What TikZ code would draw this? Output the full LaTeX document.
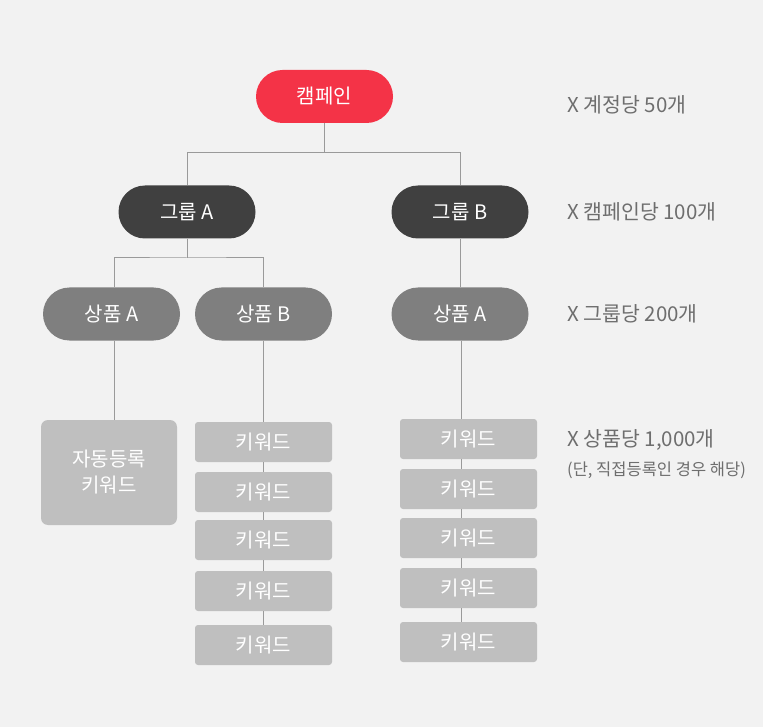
\documentclass[tikz,border=0pt]{standalone}
\usepackage{fontspec}
\setmainfont{Noto Sans CJK KR}
\definecolor{bgc}{HTML}{F2F2F2}
\definecolor{campred}{HTML}{F43347}
\definecolor{groupc}{HTML}{404040}
\definecolor{prodc}{HTML}{7F7F7F}
\definecolor{keyc}{HTML}{BFBFBF}
\definecolor{linec}{HTML}{9A9A9A}
\definecolor{notec}{HTML}{6E6E6E}
\begin{document}
\begin{tikzpicture}[x=1pt,y=-1pt,
  pill/.style={rounded corners=26.5pt, minimum width=137pt, minimum height=53pt,
    inner sep=0pt, text=white, font=\fontsize{20}{23}\selectfont},
  keybox/.style={rounded corners=3pt, fill=keyc, minimum width=137pt, minimum height=40pt,
    inner sep=0pt, text=white, font=\fontsize{20}{23}\selectfont},
  autobox/.style={rounded corners=7pt, fill=keyc, minimum width=136pt, minimum height=105pt,
    inner sep=0pt, text=white, align=center, font=\fontsize{20}{26}\selectfont},
  conn/.style={draw=linec, line width=1pt},
  note/.style={anchor=base west, inner sep=0pt, text=notec, font=\fontsize{20.5}{23}\selectfont},
  smallnote/.style={anchor=base west, inner sep=0pt, text=notec, font=\fontsize{16.5}{19}\selectfont}]
\fill[bgc] (0,0) rectangle (763,727);
\useasboundingbox (0,0) rectangle (763,727);

% nodes
\node[pill, fill=campred] (c) at (324.5,96.5) {캠페인};
\node[pill, fill=groupc] (ga) at (187,212) {그룹 A};
\node[pill, fill=groupc] (gb) at (460,212) {그룹 B};
\node[pill, fill=prodc] (pa) at (111.5,314) {상품 A};
\node[pill, fill=prodc] (pb) at (263.5,314) {상품 B};
\node[pill, fill=prodc] (pc) at (460,314) {상품 A};

\node[autobox] (auto) at (109,472.5) {자동등록\\키워드};

\node[keybox] (b1) at (263.5,442) {키워드};
\node[keybox] (b2) at (263.5,492) {키워드};
\node[keybox] (b3) at (263.5,540) {키워드};
\node[keybox] (b4) at (263.5,591) {키워드};
\node[keybox] (b5) at (263.5,645) {키워드};

\node[keybox] (k1) at (468.5,439) {키워드};
\node[keybox] (k2) at (468.5,489) {키워드};
\node[keybox] (k3) at (468.5,538) {키워드};
\node[keybox] (k4) at (468.5,588) {키워드};
\node[keybox] (k5) at (468.5,642) {키워드};

% notes
\node[note] (n1) at (567,113) {X 계정당 50개};
\node[note] (n2) at (567,220) {X 캠페인당 100개};
\node[note] (n3) at (567,322) {X 그룹당 200개};
\node[note] (n4) at (567,446) {X 상품당 1,000개};
\node[smallnote] (n5) at (567,475) {(단, 직접등록인 경우 해당)};

% connectors
\coordinate (j1) at (324.5,152.5);
\draw[conn] (c.south) -- (j1);
\draw[conn] (ga.north) |- (j1) -| (gb.north);
\draw[conn] (gb.south) -- (pc.north);

\coordinate (j2) at (187,258);
\coordinate (pat) at ([xshift=2.5pt]pa.north);
\coordinate (pab) at ([xshift=2.5pt]pa.south);
\draw[conn] (ga.south) -- (j2);
\draw[conn] (pat) |- (j2) -| (pb.north);
\draw[conn] (pab) -- (pab |- auto.north);

\draw[conn] (pb.south) -- (b1.north);
\draw[conn] (b1.south) -- (b2.north);
\draw[conn] (b2.south) -- (b3.north);
\draw[conn] (b3.south) -- (b4.north);
\draw[conn] (b4.south) -- (b5.north);

\coordinate (rx) at ([xshift=1pt]pc.south);
\draw[conn] (rx) -- (rx |- k1.north);
\draw[conn] (k1.south -| rx) -- (k2.north -| rx);
\draw[conn] (k2.south -| rx) -- (k3.north -| rx);
\draw[conn] (k3.south -| rx) -- (k4.north -| rx);
\draw[conn] (k4.south -| rx) -- (k5.north -| rx);
\end{tikzpicture}
\end{document}
